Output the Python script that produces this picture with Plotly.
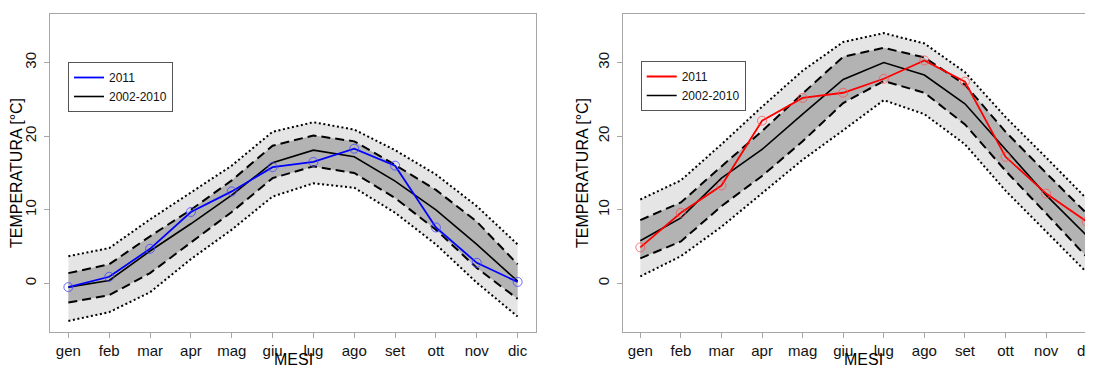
import plotly.graph_objects as go

months = ["gen", "feb", "mar", "apr", "mag", "giu", "lug", "ago", "set", "ott", "nov", "dic"]
y_ticks = [0, 10, 20, 30]

# Left panel
l_2011 = [-0.5, 0.9, 4.7, 9.7, 12.5, 15.8, 16.5, 18.3, 16.0, 7.6, 2.8, 0.2]
l_mean = [-0.5, 0.4, 4.4, 8.1, 12.0, 16.4, 18.1, 17.2, 13.9, 10.0, 5.3, 0.3]
l_dash_hi = [1.4, 2.6, 6.4, 10.0, 14.0, 18.7, 20.1, 19.3, 16.1, 12.7, 8.4, 2.6]
l_dash_lo = [-2.6, -1.6, 1.4, 5.6, 9.7, 14.3, 15.9, 15.0, 11.6, 7.3, 2.1, -2.1]
l_dot_hi = [3.7, 4.8, 8.7, 12.3, 16.0, 20.6, 21.9, 20.9, 18.1, 14.8, 10.5, 5.3]
l_dot_lo = [-5.1, -3.9, -1.2, 3.3, 7.3, 11.8, 13.6, 13.0, 9.6, 5.3, 0.1, -4.5]

# Right panel
r_2011 = [4.9, 9.6, 13.3, 22.1, 25.2, 25.9, 27.8, 30.3, 27.4, 17.2, 12.2, 8.4]
r_mean = [5.8, 8.9, 14.3, 18.2, 23.0, 27.7, 30.0, 28.3, 24.4, 18.2, 12.0, 6.5]
r_dash_hi = [8.6, 11.0, 15.9, 20.7, 25.8, 30.8, 32.0, 30.7, 27.0, 20.6, 15.0, 9.5]
r_dash_lo = [3.4, 5.7, 10.5, 14.6, 19.3, 24.5, 27.5, 25.9, 21.6, 15.3, 9.5, 3.6]
r_dot_hi = [11.4, 14.0, 18.9, 24.0, 28.9, 32.8, 34.0, 32.6, 28.7, 22.6, 17.1, 11.5]
r_dot_lo = [0.95, 3.7, 7.7, 12.2, 16.8, 20.8, 24.9, 23.0, 18.9, 12.6, 7.1, 1.5]

FONT = "Liberation Sans, Arial, sans-serif"
LIGHT = "#e5e5e5"
DARK = "#b3b3b3"
DOT = "2px,2.6px"
DASH = "9px,5px"

fig = go.Figure()
xi = list(range(len(months)))


def add_panel(xa, ya, legend, rank0, col, col_marker, y2011, mean, dhi, dlo, thi, tlo):
    common = dict(xaxis=xa, yaxis=ya, hoverinfo="skip")
    fig.add_trace(go.Scatter(x=xi, y=tlo, mode="lines", line=dict(width=0), showlegend=False, **common))
    fig.add_trace(go.Scatter(x=xi, y=thi, mode="lines", line=dict(width=0), fill="tonexty",
                             fillcolor=LIGHT, showlegend=False, **common))
    fig.add_trace(go.Scatter(x=xi, y=dlo, mode="lines", line=dict(width=0), showlegend=False, **common))
    fig.add_trace(go.Scatter(x=xi, y=dhi, mode="lines", line=dict(width=0), fill="tonexty",
                             fillcolor=DARK, showlegend=False, **common))
    for arr in (thi, tlo):
        fig.add_trace(go.Scatter(x=xi, y=arr, mode="lines", line=dict(color="black", width=2, dash=DOT),
                                 showlegend=False, **common))
    for arr in (dhi, dlo):
        fig.add_trace(go.Scatter(x=xi, y=arr, mode="lines", line=dict(color="black", width=2, dash=DASH),
                                 showlegend=False, **common))
    fig.add_trace(go.Scatter(x=xi, y=mean, mode="lines", name="2002-2010", legend=legend,
                             legendrank=rank0 + 1, line=dict(color="black", width=1.6), **common))
    fig.add_trace(go.Scatter(x=xi, y=y2011, mode="lines", name="2011", legend=legend,
                             legendrank=rank0, line=dict(color=col, width=1.8), **common))
    fig.add_trace(go.Scatter(x=xi, y=y2011, mode="markers", showlegend=False,
                             marker=dict(symbol="circle-open", size=9, color=col_marker, line=dict(width=1)),
                             **common))


add_panel("x", "y", "legend", 1, "#0000ff", "rgba(70,70,255,0.8)",
          l_2011, l_mean, l_dash_hi, l_dash_lo, l_dot_hi, l_dot_lo)
add_panel("x2", "y2", "legend2", 3, "#ff0000", "rgba(255,80,80,0.75)",
          r_2011, r_mean, r_dash_hi, r_dash_lo, r_dot_hi, r_dot_lo)

# page has an 8px body margin: work in figure coordinates (page - 8)
OFF = 8
W, H = 1093 - OFF, 365 - OFF
T, B = 14 - OFF, H - (332 - OFF)
ph = H - T - B


def py(page_y):
    return (H - B - (page_y - OFF)) / ph


axis_font = dict(family=FONT, size=15, color="#111111")
box = "#a6a6a6"

xcommon = dict(tickmode="array", tickvals=xi, ticktext=months, ticks="outside", ticklen=5,
               tickcolor=box, showline=True, linecolor=box, linewidth=1, showgrid=False,
               zeroline=False, tickfont=axis_font, automargin=False, ticklabeloverflow="allow")
ycommon = dict(tickmode="array", tickvals=y_ticks, ticks="outside", ticklen=5, tickcolor=box,
               showline=True, linecolor=box, linewidth=1, showgrid=False, zeroline=False,
               tickangle=-90, tickfont=axis_font, automargin=False, range=[-6.6, 36.6],
               ticklabelstandoff=2,
               title=dict(text="TEMPERATURA [°C]", font=dict(family=FONT, size=16, color="black"),
                          standoff=2))

legend_style = dict(xanchor="left", yanchor="top", bgcolor="white", bordercolor="#555555",
                    borderwidth=1, font=dict(family=FONT, size=12, color="#111111"),
                    tracegroupgap=0, traceorder="normal")

fig.update_layout(
    width=W, height=H,
    margin=dict(l=0, r=0, t=T, b=B),
    paper_bgcolor="white", plot_bgcolor="white",
    font=dict(family=FONT),
    xaxis=dict(domain=[(50 - OFF) / W, (536 - OFF) / W], range=[-0.45, 11.45], mirror=True,
               anchor="y", **xcommon),
    yaxis=dict(domain=[0, 1], mirror=True, anchor="x", **ycommon),
    xaxis2=dict(domain=[(622.7 - OFF) / W, 1], range=[-0.434, 11.155], mirror=True, anchor="y2",
                **xcommon),
    yaxis2=dict(domain=[0, 1], mirror=False, anchor="x2", **ycommon),
    legend=dict(x=(68 - OFF) / W, y=py(62), **legend_style),
    legend2=dict(x=(640.7 - OFF) / W, y=py(61), **legend_style),
    annotations=[
        dict(text="MESI", xref="x", yref="paper", x=5.5, y=py(359.5), yanchor="middle",
             showarrow=False, font=dict(family=FONT, size=16, color="black")),
        dict(text="MESI", xref="x2", yref="paper", x=5.5, y=py(359.5), yanchor="middle",
             showarrow=False, font=dict(family=FONT, size=16, color="black")),
    ],
)

fig.write_html("out.html")
